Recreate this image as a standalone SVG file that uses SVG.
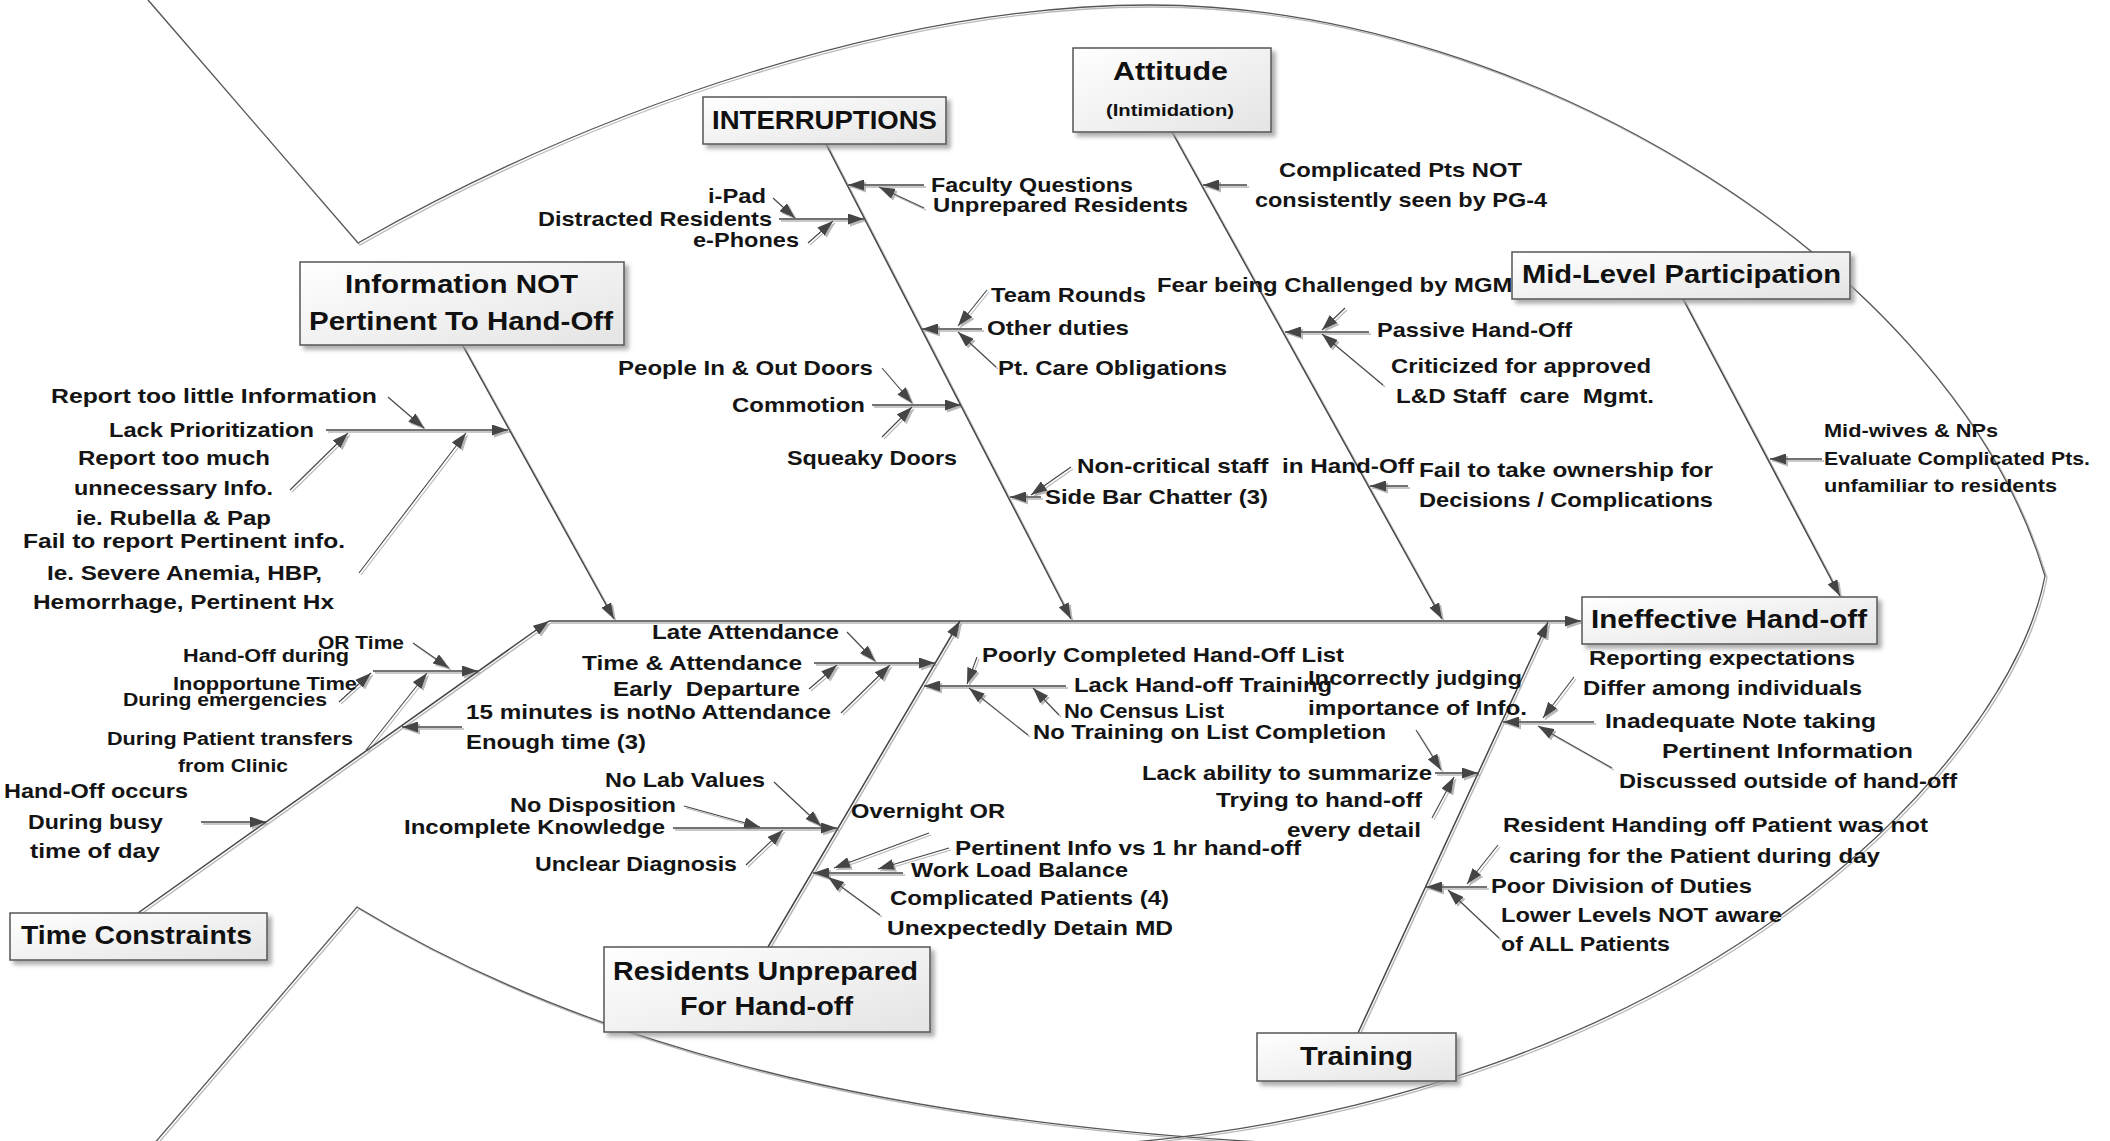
<svg xmlns="http://www.w3.org/2000/svg" width="2110" height="1141" viewBox="0 0 2110 1141">
<defs>
<style>
.t{font-family:"Liberation Sans",Arial,sans-serif;font-size:21px;font-weight:bold;fill:#141414}
.s{font-size:18px}
.m{font-size:18.5px}
.h{font-family:"Liberation Sans",Arial,sans-serif;font-size:26px;font-weight:bold;fill:#111}
.box{fill:url(#bg);stroke:#555;stroke-width:1.5;filter:url(#bs)}
.ln{stroke:#444;stroke-width:1.5;fill:none}
.a{marker-end:url(#ar)}
.ol{stroke:#555;stroke-width:1.3;fill:none}
</style>
<linearGradient id="bg" x1="0" y1="0" x2="1" y2="1">
<stop offset="0" stop-color="#ffffff"/><stop offset="1" stop-color="#e4e4e4"/>
</linearGradient>
<filter id="bs" x="-10%" y="-10%" width="130%" height="140%">
<feDropShadow dx="4" dy="4" stdDeviation="2" flood-color="#999" flood-opacity="0.8"/>
</filter>
<filter id="ls" filterUnits="userSpaceOnUse" x="0" y="0" width="2110" height="1141">
<feDropShadow dx="2" dy="2" stdDeviation="0.4" flood-color="#b8b8b8" flood-opacity="1"/>
</filter>
<marker id="ar" viewBox="0 0 16 11" refX="16" refY="5.5" markerWidth="16" markerHeight="11" markerUnits="userSpaceOnUse" orient="auto">
<path d="M0,0 L16,5.5 L0,11 z" fill="#444"/>
</marker>
</defs>
<rect width="2110" height="1141" fill="#fff"/>

<g id="outline" filter="url(#ls)">
<path class="ol" d="M148,0 L358,243 C600,105 900,5 1150,5 C1530,5 1955,270 2045,576 C2010,760 1700,1100 1100,1145"/>
<path class="ol" d="M153,1145 L357,907 C560,1030 850,1125 1320,1145"/>
</g>

<g id="connectors" filter="url(#ls)">
<g class="ln a">
<path d="M549,621 L1581,621"/>
<path d="M463,346 L614,619"/>
<path d="M826,144 L1071,619"/>
<path d="M1172,132 L1442,619"/>
<path d="M1683,299 L1840,596"/>
<path d="M138,913 L549,621"/>
<path d="M768,947 L960,621"/>
<path d="M1358,1033 L1548,622"/>
<path d="M326,430 L508,430"/>
<path d="M373,671 L478,671"/>
<path d="M924,185 L848,185"/>
<path d="M779,219 L864,219"/>
<path d="M982,329 L922,329"/>
<path d="M872,405 L961,405"/>
<path d="M1041,497 L1010,497"/>
<path d="M1369,332 L1285,332"/>
<path d="M814,663 L935,663"/>
<path d="M1066,686 L924,686"/>
<path d="M673,828 L837,828"/>
<path d="M903,873 L813,873"/>
<path d="M1594,722 L1503,722"/>
<path d="M1435,773 L1478,773"/>
<path d="M1487,887 L1426,887"/>
<path d="M1247,185 L1203,185"/>
<path d="M1408,486 L1370,486"/>
<path d="M1822,459 L1770,459"/>
<path d="M462,727 L402,727"/>
<path d="M201,822 L266,822"/>
</g>
<g class="ln a" style="stroke-width:1.1">
<path d="M388,397 L424,428"/>
<path d="M290,490 L348,433"/>
<path d="M359,573 L466,433"/>
<path d="M413,643 L449,668"/>
<path d="M339,702 L371,673"/>
<path d="M366,750 L427,673"/>
<path d="M924,208 L879,187"/>
<path d="M773,198 L795,218"/>
<path d="M808,243 L833,221"/>
<path d="M987,290 L958,326"/>
<path d="M996,367 L958,332"/>
<path d="M882,368 L912,403"/>
<path d="M882,437 L912,407"/>
<path d="M1071,467 L1031,495"/>
<path d="M1345,308 L1322,330"/>
<path d="M1383,385 L1322,334"/>
<path d="M847,632 L875,661"/>
<path d="M809,689 L837,665"/>
<path d="M841,713 L890,665"/>
<path d="M977,657 L967,684"/>
<path d="M1059,715 L1033,688"/>
<path d="M1028,735 L969,688"/>
<path d="M774,782 L821,826"/>
<path d="M684,806 L760,827"/>
<path d="M746,865 L783,830"/>
<path d="M929,833 L834,868"/>
<path d="M949,848 L878,869"/>
<path d="M880,915 L828,877"/>
<path d="M1574,677 L1543,718"/>
<path d="M1612,768 L1538,726"/>
<path d="M1416,730 L1441,770"/>
<path d="M1432,818 L1454,777"/>
<path d="M1498,845 L1467,884"/>
<path d="M1499,938 L1448,890"/>
</g>
</g>

<g id="causes-information">
<text class="t" x="51" y="403" textLength="326" lengthAdjust="spacingAndGlyphs">Report too little Information</text>
<text class="t" x="109" y="437" textLength="205" lengthAdjust="spacingAndGlyphs">Lack Prioritization</text>
<text class="t" x="78" y="465" textLength="192" lengthAdjust="spacingAndGlyphs">Report too much</text>
<text class="t" x="74" y="495" textLength="199" lengthAdjust="spacingAndGlyphs">unnecessary Info.</text>
<text class="t" x="76" y="525" textLength="195" lengthAdjust="spacingAndGlyphs">ie. Rubella &amp; Pap</text>
<text class="t" x="23" y="548" textLength="322" lengthAdjust="spacingAndGlyphs">Fail to report Pertinent info.</text>
<text class="t" x="47" y="580" textLength="275" lengthAdjust="spacingAndGlyphs">Ie. Severe Anemia, HBP,</text>
<text class="t" x="33" y="609" textLength="301" lengthAdjust="spacingAndGlyphs">Hemorrhage, Pertinent Hx</text>
</g>

<g id="causes-time">
<text class="t s" x="318" y="649" textLength="86" lengthAdjust="spacingAndGlyphs">OR Time</text>
<text class="t s" x="183" y="662" textLength="166" lengthAdjust="spacingAndGlyphs">Hand-Off during</text>
<text class="t s" x="173" y="690" textLength="184" lengthAdjust="spacingAndGlyphs">Inopportune Time</text>
<text class="t s" x="123" y="706" textLength="204" lengthAdjust="spacingAndGlyphs">During emergencies</text>
<text class="t s" x="107" y="745" textLength="246" lengthAdjust="spacingAndGlyphs">During Patient transfers</text>
<text class="t s" x="178" y="772" textLength="110" lengthAdjust="spacingAndGlyphs">from Clinic</text>
<text class="t" x="466" y="719" textLength="198" lengthAdjust="spacingAndGlyphs">15 minutes is not</text>
<text class="t" x="466" y="749" textLength="180" lengthAdjust="spacingAndGlyphs">Enough time (3)</text>
<text class="t" x="4" y="798" textLength="184" lengthAdjust="spacingAndGlyphs">Hand-Off occurs</text>
<text class="t" x="28" y="829" textLength="135" lengthAdjust="spacingAndGlyphs">During busy</text>
<text class="t" x="30" y="858" textLength="130" lengthAdjust="spacingAndGlyphs">time of day</text>
</g>

<g id="causes-interruptions">
<text class="t" x="931" y="192" textLength="202" lengthAdjust="spacingAndGlyphs">Faculty Questions</text>
<text class="t" x="933" y="212" textLength="255" lengthAdjust="spacingAndGlyphs">Unprepared Residents</text>
<text class="t" x="708" y="203" textLength="58" lengthAdjust="spacingAndGlyphs">i-Pad</text>
<text class="t" x="538" y="226" textLength="234" lengthAdjust="spacingAndGlyphs">Distracted Residents</text>
<text class="t" x="693" y="247" textLength="106" lengthAdjust="spacingAndGlyphs">e-Phones</text>
<text class="t" x="991" y="302" textLength="155" lengthAdjust="spacingAndGlyphs">Team Rounds</text>
<text class="t" x="987" y="335" textLength="142" lengthAdjust="spacingAndGlyphs">Other duties</text>
<text class="t" x="998" y="375" textLength="229" lengthAdjust="spacingAndGlyphs">Pt. Care Obligations</text>
<text class="t" x="618" y="375" textLength="255" lengthAdjust="spacingAndGlyphs">People In &amp; Out Doors</text>
<text class="t" x="732" y="412" textLength="133" lengthAdjust="spacingAndGlyphs">Commotion</text>
<text class="t" x="787" y="465" textLength="170" lengthAdjust="spacingAndGlyphs">Squeaky Doors</text>
<text class="t" x="1077" y="473" textLength="337" lengthAdjust="spacingAndGlyphs" xml:space="preserve">Non-critical staff  in Hand-Off</text>
<text class="t" x="1045" y="504" textLength="223" lengthAdjust="spacingAndGlyphs">Side Bar Chatter (3)</text>
</g>

<g id="causes-attitude">
<text class="t" x="1279" y="177" textLength="243" lengthAdjust="spacingAndGlyphs">Complicated Pts NOT</text>
<text class="t" x="1255" y="207" textLength="292" lengthAdjust="spacingAndGlyphs">consistently seen by PG-4</text>
<text class="t" x="1157" y="292" textLength="370" lengthAdjust="spacingAndGlyphs">Fear being Challenged by MGMT</text>
<text class="t" x="1377" y="337" textLength="195" lengthAdjust="spacingAndGlyphs">Passive Hand-Off</text>
<text class="t" x="1391" y="373" textLength="260" lengthAdjust="spacingAndGlyphs">Criticized for approved</text>
<text class="t" x="1396" y="403" textLength="258" lengthAdjust="spacingAndGlyphs" xml:space="preserve">L&amp;D Staff  care  Mgmt.</text>
<text class="t" x="1419" y="477" textLength="294" lengthAdjust="spacingAndGlyphs">Fail to take ownership for</text>
<text class="t" x="1419" y="507" textLength="294" lengthAdjust="spacingAndGlyphs">Decisions / Complications</text>
</g>

<g id="causes-midlevel">
<text class="t m" x="1824" y="437" textLength="174" lengthAdjust="spacingAndGlyphs">Mid-wives &amp; NPs</text>
<text class="t m" x="1824" y="465" textLength="266" lengthAdjust="spacingAndGlyphs">Evaluate Complicated Pts.</text>
<text class="t m" x="1824" y="492" textLength="233" lengthAdjust="spacingAndGlyphs">unfamiliar to residents</text>
</g>

<g id="causes-training">
<text class="t" x="1589" y="665" textLength="266" lengthAdjust="spacingAndGlyphs">Reporting expectations</text>
<text class="t" x="1583" y="695" textLength="279" lengthAdjust="spacingAndGlyphs">Differ among individuals</text>
<text class="t" x="1605" y="728" textLength="271" lengthAdjust="spacingAndGlyphs">Inadequate Note taking</text>
<text class="t" x="1662" y="758" textLength="251" lengthAdjust="spacingAndGlyphs">Pertinent Information</text>
<text class="t" x="1619" y="788" textLength="338" lengthAdjust="spacingAndGlyphs">Discussed outside of hand-off</text>
<text class="t" x="1308" y="685" textLength="214" lengthAdjust="spacingAndGlyphs">Incorrectly judging</text>
<text class="t" x="1308" y="715" textLength="219" lengthAdjust="spacingAndGlyphs">importance of Info.</text>
<text class="t" x="1142" y="780" textLength="290" lengthAdjust="spacingAndGlyphs">Lack ability to summarize</text>
<text class="t" x="1216" y="807" textLength="206" lengthAdjust="spacingAndGlyphs">Trying to hand-off</text>
<text class="t" x="1287" y="837" textLength="134" lengthAdjust="spacingAndGlyphs">every detail</text>
<text class="t" x="1503" y="832" textLength="425" lengthAdjust="spacingAndGlyphs">Resident Handing off Patient was not</text>
<text class="t" x="1509" y="863" textLength="371" lengthAdjust="spacingAndGlyphs">caring for the Patient during day</text>
<text class="t" x="1491" y="893" textLength="261" lengthAdjust="spacingAndGlyphs">Poor Division of Duties</text>
<text class="t" x="1501" y="922" textLength="281" lengthAdjust="spacingAndGlyphs">Lower Levels NOT aware</text>
<text class="t" x="1501" y="951" textLength="169" lengthAdjust="spacingAndGlyphs">of ALL Patients</text>
</g>

<g id="causes-residents">
<text class="t" x="652" y="639" textLength="187" lengthAdjust="spacingAndGlyphs">Late Attendance</text>
<text class="t" x="582" y="670" textLength="220" lengthAdjust="spacingAndGlyphs">Time &amp; Attendance</text>
<text class="t" x="613" y="696" textLength="187" lengthAdjust="spacingAndGlyphs" xml:space="preserve">Early  Departure</text>
<text class="t" x="664" y="719" textLength="167" lengthAdjust="spacingAndGlyphs">No Attendance</text>
<text class="t" x="982" y="662" textLength="362" lengthAdjust="spacingAndGlyphs">Poorly Completed Hand-Off List</text>
<text class="t" x="1074" y="692" textLength="258" lengthAdjust="spacingAndGlyphs">Lack Hand-off Training</text>
<text class="t" x="1064" y="718" textLength="160" lengthAdjust="spacingAndGlyphs">No Census List</text>
<text class="t" x="1033" y="739" textLength="353" lengthAdjust="spacingAndGlyphs">No Training on List Completion</text>
<text class="t" x="605" y="787" textLength="160" lengthAdjust="spacingAndGlyphs">No Lab Values</text>
<text class="t" x="510" y="812" textLength="166" lengthAdjust="spacingAndGlyphs">No Disposition</text>
<text class="t" x="404" y="834" textLength="261" lengthAdjust="spacingAndGlyphs">Incomplete Knowledge</text>
<text class="t" x="535" y="871" textLength="202" lengthAdjust="spacingAndGlyphs">Unclear Diagnosis</text>
<text class="t" x="851" y="818" textLength="154" lengthAdjust="spacingAndGlyphs">Overnight OR</text>
<text class="t" x="955" y="855" textLength="346" lengthAdjust="spacingAndGlyphs">Pertinent Info vs 1 hr hand-off</text>
<text class="t" x="911" y="877" textLength="217" lengthAdjust="spacingAndGlyphs">Work Load Balance</text>
<text class="t" x="890" y="905" textLength="279" lengthAdjust="spacingAndGlyphs">Complicated Patients (4)</text>
<text class="t" x="887" y="935" textLength="286" lengthAdjust="spacingAndGlyphs">Unexpectedly Detain MD</text>
</g>

<g id="node-interruptions">
<rect class="box" x="703" y="97" width="243" height="47"/>
<text class="h" x="712" y="129" textLength="225" lengthAdjust="spacingAndGlyphs">INTERRUPTIONS</text>
</g>
<g id="node-attitude">
<rect class="box" x="1073" y="48" width="198" height="84"/>
<text class="h" x="1113" y="80" textLength="115" lengthAdjust="spacingAndGlyphs">Attitude</text>
<text class="h" x="1106" y="116" style="font-size:17px" textLength="128" lengthAdjust="spacingAndGlyphs">(Intimidation)</text>
</g>
<g id="node-information">
<rect class="box" x="300" y="262" width="324" height="83"/>
<text class="h" x="345" y="293" textLength="233" lengthAdjust="spacingAndGlyphs">Information NOT</text>
<text class="h" x="309" y="330" textLength="304" lengthAdjust="spacingAndGlyphs">Pertinent To Hand-Off</text>
</g>
<g id="node-midlevel">
<rect class="box" x="1512" y="252" width="338" height="47"/>
<text class="h" x="1522" y="283" textLength="319" lengthAdjust="spacingAndGlyphs">Mid-Level Participation</text>
</g>
<g id="node-ineffective">
<rect class="box" x="1582" y="597" width="295" height="47"/>
<text class="h" x="1591" y="628" textLength="276" lengthAdjust="spacingAndGlyphs">Ineffective Hand-off</text>
</g>
<g id="node-time">
<rect class="box" x="10" y="913" width="257" height="47"/>
<text class="h" x="21" y="944" textLength="231" lengthAdjust="spacingAndGlyphs">Time Constraints</text>
</g>
<g id="node-residents">
<rect class="box" x="604" y="947" width="326" height="85"/>
<text class="h" x="613" y="980" textLength="305" lengthAdjust="spacingAndGlyphs">Residents Unprepared</text>
<text class="h" x="680" y="1015" textLength="173" lengthAdjust="spacingAndGlyphs">For Hand-off</text>
</g>
<g id="node-training">
<rect class="box" x="1257" y="1033" width="199" height="48"/>
<text class="h" x="1300" y="1065" textLength="113" lengthAdjust="spacingAndGlyphs">Training</text>
</g>
</svg>
